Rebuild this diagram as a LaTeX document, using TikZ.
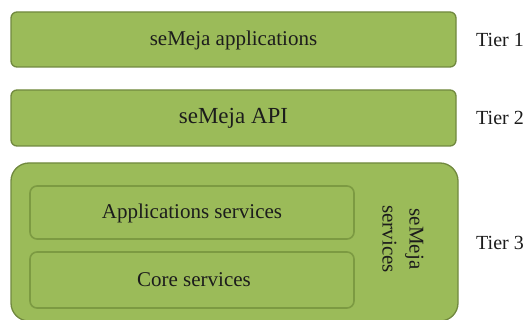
\documentclass[tikz,border=0pt]{standalone}
\usepackage{fontspec}
\setmainfont{Liberation Serif}
\begin{document}
\begin{tikzpicture}[x=1pt,y=-1pt,
  tierbox/.style={draw=tierline,fill=tiergreen,line width=1.3pt,rounded corners=6pt},
  innerbox/.style={draw=innerline,fill=tiergreen,line width=1.6pt,rounded corners=7pt},
  lbl/.style={font=\fontsize{21}{27}\selectfont,text=textdark,inner sep=0pt},
  tierlbl/.style={font=\fontsize{20}{24}\selectfont,text=textdark,inner sep=0pt,anchor=west}]
\definecolor{tiergreen}{HTML}{9BBB59}
\definecolor{tierline}{HTML}{71893F}
\definecolor{innerline}{HTML}{7C9A42}
\definecolor{textdark}{HTML}{1C1C1C}
\useasboundingbox (0,0) rectangle (530,320);
\fill[white] (0,0) rectangle (530,320);

% tier 1
\draw[tierbox] (11,12) rectangle (456,67);
\node[lbl] (apps) at (233.5,40) {seMeja applications};
\node[tierlbl] (t1) at (476,40) {Tier 1};

% tier 2
\draw[tierbox] (11,90) rectangle (456,146);
\node[lbl,font=\fontsize{23}{27}\selectfont] (api) at (233.5,118) {seMeja API};
\node[tierlbl] (t2) at (476,118) {Tier 2};

% tier 3
\draw[tierbox,rounded corners=18pt] (11,163) rectangle (458,321);
\draw[innerbox] (30,186) rectangle (354,239);
\node[lbl] (appsvc) at (192,213) {Applications services};
\draw[innerbox] (30,252) rectangle (354,308);
\node[lbl] (coresvc) at (194,280) {Core services};
\node[lbl,rotate=-90,align=center] (svc) at (403,239) {seMeja\\services};
\node[tierlbl] (t3) at (476,243) {Tier 3};
\end{tikzpicture}
\end{document}
